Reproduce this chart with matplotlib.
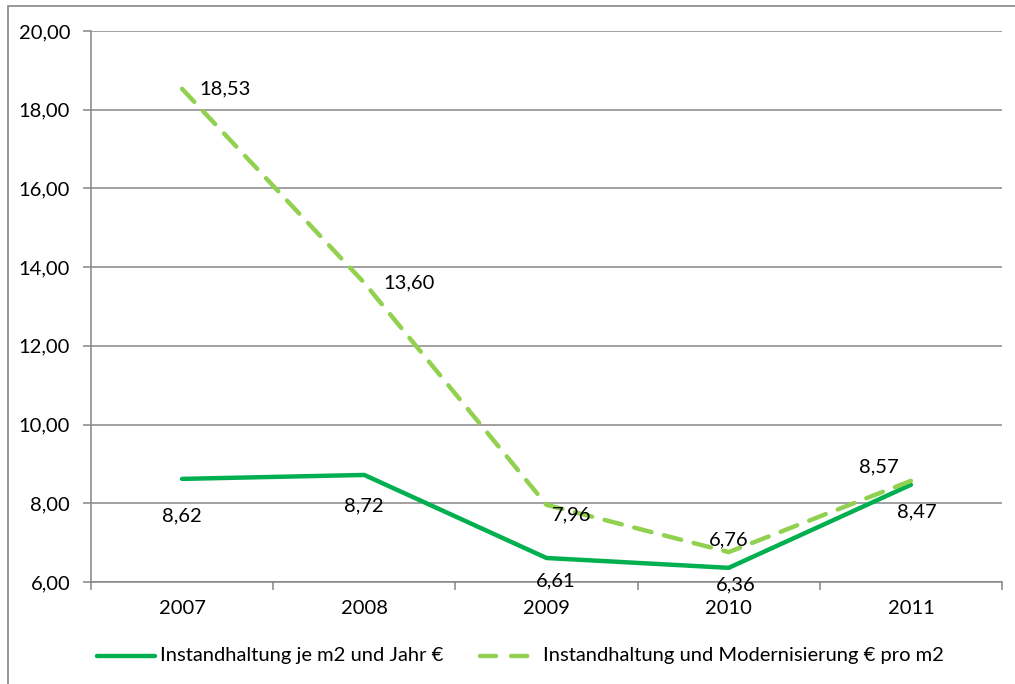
import matplotlib
matplotlib.use("Agg")
import matplotlib.pyplot as plt
from matplotlib.patches import Rectangle
from matplotlib.lines import Line2D
import numpy as np

years = ["2007", "2008", "2009", "2010", "2011"]
instandhaltung = [8.62, 8.72, 6.61, 6.36, 8.47]
modernisierung = [18.53, 13.60, 7.96, 6.76, 8.57]
name1 = "Instandhaltung je m2 und Jahr €"
name2 = "Instandhaltung und Modernisierung € pro m2"

plt.rcParams['font.family'] = ['Lato', 'DejaVu Sans']
fs = 14.5

W, H = 1015, 684
fig = plt.figure(figsize=(W / 100, H / 100), dpi=100)
ax = fig.add_axes([91 / W, 1 - 582 / H, (1002 - 91) / W, (582 - 31) / H])

grey = "#868686"
x = np.arange(len(years))
c1 = "#00B050"
c2 = "#92D050"
dash = (4.0, 2.9)
ax.plot(x, instandhaltung, color=c1, lw=3.2, solid_capstyle='round', zorder=3)
ax.plot(x, modernisierung, color=c2, lw=3.2, dashes=dash, dash_capstyle='round', zorder=3)

ax.set_xlim(-0.5, len(years) - 0.5)
ax.set_ylim(6, 20)
yt = np.arange(6, 21, 2)
ax.set_yticks(yt)
ax.set_yticklabels([f"{v:.2f}".replace(".", ",") for v in yt], fontsize=fs)
ax.yaxis.grid(True, color=grey, lw=1.1)
ax.set_axisbelow(True)
ax.set_xticks(x)
ax.set_xticklabels(years, fontsize=fs)
ax.tick_params(axis='x', length=0, pad=13)
ax.set_xticks(np.arange(-0.5, len(years), 1), minor=True)
ax.tick_params(axis='x', which='minor', length=6, color=grey, width=1.1)
ax.tick_params(axis='y', length=6, color=grey, width=1.1, pad=9)
for s in ['top', 'right']:
    ax.spines[s].set_visible(False)
for s in ['left', 'bottom']:
    ax.spines[s].set_color(grey)
    ax.spines[s].set_linewidth(1.1)

def fmt(v):
    return f"{v:.2f}".replace(".", ",")

# label offsets in points
offs1 = [(0, -26.5), (0, -22), (6.5, -16.5), (5, -12), (4.5, -19.5)]
for i, v in enumerate(instandhaltung):
    dx, dy = offs1[i]
    ax.annotate(fmt(v), (x[i], v), xytext=(dx, dy), textcoords='offset points',
                ha='center', va='center', fontsize=fs)
offs2 = [(31, 0), (32, 0), (18, -7), (0, 8.6), (-23, 10)]
for i, v in enumerate(modernisierung):
    dx, dy = offs2[i]
    ax.annotate(fmt(v), (x[i], v), xytext=(dx, dy), textcoords='offset points',
                ha='center', va='center', fontsize=fs)

# legend (manual placement)
ly = 1 - 656 / H
fig.add_artist(Line2D([97 / W, 155 / W], [ly, ly], color=c1, lw=3.2,
                      solid_capstyle='round', transform=fig.transFigure))
fig.text(160 / W, ly, name1, fontsize=fs, va='center', ha='left')
fig.add_artist(Line2D([480 / W, 531 / W], [ly, ly], color=c2, lw=3.2, dashes=(3.6, 3.4),
                      dash_capstyle='round', transform=fig.transFigure))
fig.text(543 / W, ly, name2, fontsize=fs, va='center', ha='left')

# outer chart border
fig.patches.append(Rectangle((8 / W, -0.05), 1.1, 1 - 6 / H + 0.05, transform=fig.transFigure,
                             fill=False, edgecolor=grey, lw=1.2))

fig.savefig("out.png", dpi=100)
